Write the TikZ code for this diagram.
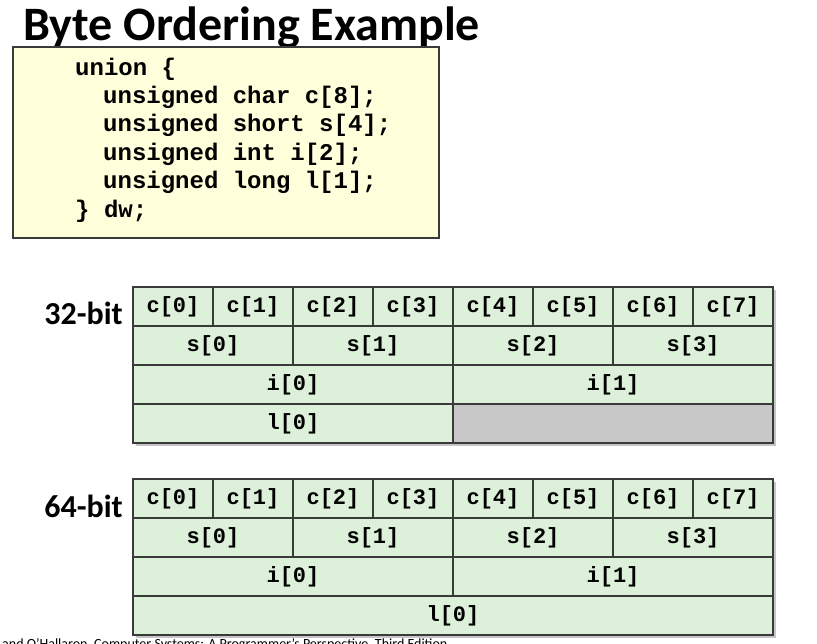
\documentclass[tikz,border=0pt]{standalone}
\usepackage{fontspec}
\setmainfont{Carlito}
\setmonofont{Liberation Mono}
\usetikzlibrary{shadows}
\definecolor{cellgreen}{HTML}{DDF0DA}
\definecolor{codeyellow}{HTML}{FFFFDC}
\definecolor{edgegray}{HTML}{3A3A3A}
\definecolor{padgray}{HTML}{C8C8C8}

\begin{document}
\begin{tikzpicture}[x=1pt,y=-1pt,
  cell/.style={draw=edgegray, line width=1.2pt, fill=cellgreen, minimum height=39pt, inner sep=0pt,
    font=\ttfamily\bfseries\fontsize{22}{22}\selectfont},
  byte/.style={cell, minimum width=80pt},
  half/.style={cell, minimum width=160pt},
  word/.style={cell, minimum width=320pt},
  quad/.style={cell, minimum width=640pt},
  frame/.style={draw=edgegray, line width=1.2pt, fill=cellgreen,
    drop shadow={shadow xshift=2.5pt, shadow yshift=-2.5pt, opacity=.45}},
  codeline/.style={anchor=base west, inner sep=0pt, font=\ttfamily\bfseries\fontsize{24}{24}\selectfont},
  sizelabel/.style={anchor=base east, inner sep=0pt, font=\bfseries\fontsize{32}{32}\selectfont}]
\useasboundingbox (0,0) rectangle (817,643);
% title
\node [anchor=base west, inner sep=0pt, font=\bfseries\fontsize{48}{48}\selectfont] (title) at (23,40) {Byte Ordering Example};
% code box
\draw [draw=edgegray, line width=1.2pt, fill=codeyellow] (13,47) rectangle (439,238);
\node [codeline] (l1) at (75,75) {union \{};
\node [codeline] (l2) at (103,103.4) {unsigned char c[8];};
\node [codeline] (l3) at (103,131.8) {unsigned short s[4];};
\node [codeline] (l4) at (103,160.2) {unsigned int i[2];};
\node [codeline] (l5) at (103,188.6) {unsigned long l[1];};
\node [codeline] (l6) at (75,217) {\} dw;};
% 32-bit
\node [sizelabel] (lab32) at (123,324) {32-bit};
\draw [frame] (133,287) rectangle (773,443);
\node [byte] (c0a) at (173,306.5) {c[0]}; \node [byte] (c1a) at (253,306.5) {c[1]};
\node [byte] (c2a) at (333,306.5) {c[2]}; \node [byte] (c3a) at (413,306.5) {c[3]};
\node [byte] (c4a) at (493,306.5) {c[4]}; \node [byte] (c5a) at (573,306.5) {c[5]};
\node [byte] (c6a) at (653,306.5) {c[6]}; \node [byte] (c7a) at (733,306.5) {c[7]};
\node [half] (s0a) at (213,345.5) {s[0]}; \node [half] (s1a) at (373,345.5) {s[1]};
\node [half] (s2a) at (533,345.5) {s[2]}; \node [half] (s3a) at (693,345.5) {s[3]};
\node [word] (i0a) at (293,384.5) {i[0]}; \node [word] (i1a) at (613,384.5) {i[1]};
\node [word] (l0a) at (293,423.5) {l[0]}; \node [word, fill=padgray] (pada) at (613,423.5) {};
% 64-bit
\node [sizelabel] (lab64) at (123,517) {64-bit};
\draw [frame] (133,479) rectangle (773,635);
\node [byte] (c0b) at (173,498.5) {c[0]}; \node [byte] (c1b) at (253,498.5) {c[1]};
\node [byte] (c2b) at (333,498.5) {c[2]}; \node [byte] (c3b) at (413,498.5) {c[3]};
\node [byte] (c4b) at (493,498.5) {c[4]}; \node [byte] (c5b) at (573,498.5) {c[5]};
\node [byte] (c6b) at (653,498.5) {c[6]}; \node [byte] (c7b) at (733,498.5) {c[7]};
\node [half] (s0b) at (213,537.5) {s[0]}; \node [half] (s1b) at (373,537.5) {s[1]};
\node [half] (s2b) at (533,537.5) {s[2]}; \node [half] (s3b) at (693,537.5) {s[3]};
\node [word] (i0b) at (293,576.5) {i[0]}; \node [word] (i1b) at (613,576.5) {i[1]};
\node [quad] (l0b) at (453,615.5) {l[0]};
% footer
\node [anchor=base west, inner sep=0pt, font=\fontsize{14}{14}\selectfont] (foot) at (2,648) {and O'Hallaron, Computer Systems: A Programmer's Perspective, Third Edition};
\end{tikzpicture}
\end{document}
